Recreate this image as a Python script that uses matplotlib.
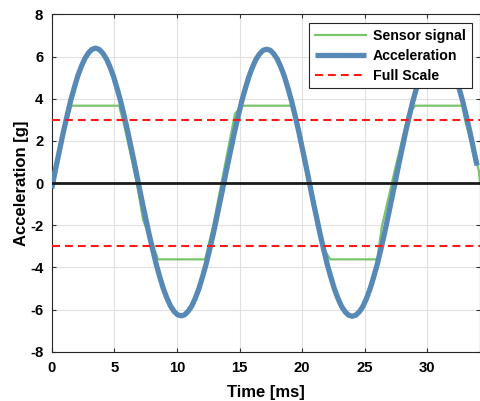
import numpy as np
import matplotlib.pyplot as plt

# Acceleration samples (ms, g), one row per half cycle
acc_time = [0.0,
            0.09, 0.37, 0.66, 0.94, 1.23, 1.51, 1.80, 2.08, 2.37, 2.65, 2.94, 3.22,
            3.51, 3.79, 4.07, 4.36, 4.64, 4.93, 5.21, 5.50, 5.78, 6.07, 6.35, 6.64,
            6.92, 7.20, 7.49, 7.77, 8.06, 8.34, 8.63, 8.91, 9.20, 9.48, 9.77, 10.05,
            10.33, 10.62, 10.90, 11.19, 11.47, 11.76, 12.04, 12.33, 12.61, 12.90, 13.18, 13.46,
            13.75, 14.03, 14.32, 14.60, 14.89, 15.17, 15.46, 15.74, 16.03, 16.31, 16.60, 16.88,
            17.17, 17.45, 17.73, 18.02, 18.30, 18.59, 18.87, 19.16, 19.44, 19.73, 20.01, 20.30,
            20.58, 20.86, 21.15, 21.43, 21.72, 22.00, 22.29, 22.57, 22.86, 23.14, 23.43, 23.71,
            23.99, 24.28, 24.56, 24.85, 25.13, 25.42, 25.70, 25.99, 26.27, 26.56, 26.84, 27.12,
            27.41, 27.69, 27.98, 28.26, 28.55, 28.83, 29.12, 29.40, 29.69, 29.97, 30.26, 30.54,
            30.83, 31.11, 31.39, 31.68, 31.96, 32.25, 32.53, 32.82, 33.10, 33.39, 33.67, 33.96]
acc_g = [-0.26,
         0.0, 0.84, 1.66, 2.45, 3.2, 3.9, 4.52, 5.08, 5.54, 5.91, 6.18, 6.35,
         6.4, 6.34, 6.17, 5.9, 5.53, 5.07, 4.51, 3.89, 3.2, 2.44, 1.65, 0.83,
         0.0, -0.82, -1.63, -2.41, -3.15, -3.84, -4.46, -5.0, -5.46, -5.83, -6.09, -6.25,
         -6.3, -6.25, -6.08, -5.82, -5.46, -5.0, -4.45, -3.84, -3.15, -2.41, -1.62, -0.82,
         0.01, 0.83, 1.64, 2.43, 3.18, 3.87, 4.49, 5.04, 5.5, 5.87, 6.13, 6.3,
         6.35, 6.3, 6.13, 5.87, 5.5, 5.04, 4.49, 3.87, 3.18, 2.43, 1.64, 0.83,
         0.0, -0.83, -1.63, -2.42, -3.17, -3.86, -4.47, -5.02, -5.48, -5.85, -6.11, -6.27,
         -6.32, -6.27, -6.11, -5.85, -5.48, -5.02, -4.47, -3.86, -3.17, -2.42, -1.63, -0.83,
         0.0, 0.83, 1.64, 2.43, 3.18, 3.87, 4.49, 5.04, 5.5, 5.87, 6.13, 6.3,
         6.35, 6.3, 6.13, 5.87, 5.5, 5.04, 4.49, 3.87, 3.18, 2.43, 1.64, 0.83]

# Sensor output, saturating near +/-3.65 g
sensor_time = [0.0, 1.54, 5.38, 5.75, 6.8, 7.3, 8.1, 8.5, 12.25, 12.5, 12.9,
               13.7, 14.64, 15.25, 19.17, 19.57, 20.5, 21.17, 21.7, 22.23, 26.0, 26.36,
               27.4, 28.45, 29.0, 32.8, 33.0, 34.1, 34.2]
sensor_g = [0.2, 3.67, 3.67, 2.85, 0.0, -1.75, -3.0, -3.62, -3.62, -3.0, -2.0,
            0.45, 3.3, 3.67, 3.67, 2.67, 0.0, -2.0, -3.1, -3.62, -3.62, -2.07,
            0.62, 3.2, 3.67, 3.67, 3.0, 0.6, 0.0]

full_scale = 3.0

plt.rcParams['font.family'] = ['Liberation Sans', 'DejaVu Sans']
plt.rcParams['font.weight'] = 'bold'
plt.rcParams['axes.unicode_minus'] = False

fig = plt.figure(figsize=(4.81, 4.01), dpi=100)
ax = fig.add_axes([0.1075, 0.123, 0.8905, 0.841])

ax.plot(sensor_time, sensor_g, color='#7ac46e', linewidth=1.6, label='Sensor signal', zorder=3)
ax.plot(acc_time, acc_g, color='#5689b6', linewidth=3.8, label='Acceleration',
        solid_joinstyle='round', solid_capstyle='butt', zorder=4)
ax.axhline(full_scale, color='#ff1a1a', linewidth=1.5, linestyle=(0, (3.8, 2.4)),
           label='Full Scale', zorder=5)
ax.axhline(-full_scale, color='#ff1a1a', linewidth=1.5, linestyle=(0, (3.8, 2.4)), zorder=5)
ax.axhline(0, color='#1a1a1a', linewidth=2.0, zorder=6)

ax.set_xlim(0, 34.2)
ax.set_ylim(-8, 8)
ax.set_xticks(np.arange(0, 31, 5))
ax.set_yticks(np.arange(-8, 9, 2))
ax.grid(True, color='#e0e0e0', linewidth=0.8)
ax.set_axisbelow(True)
ax.tick_params(direction='in', top=True, right=True, length=3, width=0.8,
               labelsize=10.7, color='#333333')
ax.tick_params(axis='x', pad=7)
ax.tick_params(axis='y', pad=6)
for s in ax.spines.values():
    s.set_color('#262626')
    s.set_linewidth(0.8)

ax.set_xlabel('Time [ms]', fontsize=12, fontweight='bold', labelpad=7)
ax.set_ylabel('Acceleration [g]', fontsize=12, fontweight='bold', labelpad=1)

leg = ax.legend(loc='upper right', fontsize=10.2, frameon=True, fancybox=False,
                edgecolor='#262626', framealpha=1, borderpad=0.4, handlelength=3.6,
                handletextpad=0.5, labelspacing=0.42, borderaxespad=0.6)
leg.get_frame().set_linewidth(0.8)

fig.savefig('out.png', dpi=100)
